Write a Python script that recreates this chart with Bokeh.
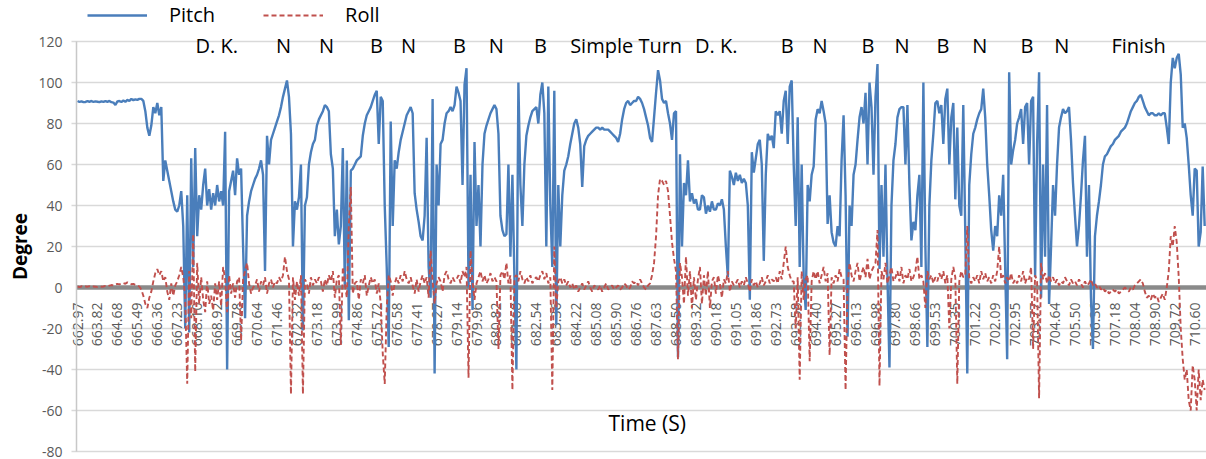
from math import pi
from bokeh.plotting import figure
from bokeh.models import (ColumnDataSource, FixedTicker, Legend, LegendItem,
                          Label, LabelSet, Range1d, LinearAxis)
from bokeh.core.properties import value
from bokeh.embed import file_html
from bokeh.resources import INLINE

# ---------------- data ----------------
tick_labels = ["662.97", "663.82", "664.68", "665.49", "666.36", "667.23", "668.10", "668.92",
               "669.78", "670.64", "671.46", "672.32", "673.18", "673.99", "674.86", "675.72",
               "676.58", "677.41", "678.27", "679.14", "679.96", "680.82", "681.68", "682.54",
               "683.36", "684.22", "685.08", "685.90", "686.76", "687.63", "688.50", "689.32",
               "690.18", "691.05", "691.86", "692.73", "693.58", "694.40", "695.27", "696.13",
               "696.98", "697.80", "698.66", "699.53", "700.35", "701.22", "702.09", "702.95",
               "703.77", "704.64", "705.50", "706.36", "707.18", "708.04", "708.90", "709.72",
               "710.60", "711.46"]
samples_per_label = 10

pitch = [
    91, 90.5, 90.8, 90.4, 90.5, 90.9, 90.6, 91, 90.5, 90.8,
    90.6, 90.4, 90.8, 90.5, 90.9, 90.6, 91, 90.4, 90.2, 89,
    90.8, 91, 90.5, 91.2, 90.6, 91.5, 91, 92, 91.4, 91.8,
    91.5, 92, 92, 91, 86, 78, 74, 79, 88, 85,
    90, 84, 88, 52, 62, 57, 52, 47, 42, 38,
    37, 40, 47, 30, -20, 45, -22, 63, 10, 68,
    25, 45, 38, 50, 58, 40, 48, 38, 46, 40,
    50, 42, 47, 40, 76, -40, 47, 52, 57, 45,
    63, 55, 58, 20, -15, 35, 42, 47, 50, 53,
    55, 58, 62, 55, 8, 74, 60, 72, 75, 78,
    81, 84, 88, 93, 97, 101, 93, 75, 20, 42,
    38, 44, 60, -21, 40, 44, 60, 66, 70, 72,
    79, 82, 84, 86, 89, 88, 86, 65, 58, 25,
    38, 21, 30, 68, 0, 62, -16, 57, 58, 60,
    62, 63, 64, 74, 80, 84, 86, 88, 91, 94,
    96, 70, 93, 91, 40, 10, -29, 81, 30, 62,
    58, 66, 72, 76, 80, 84, 86, 88, 85, 46,
    38, 32, 25, 23, 35, 73, 10, -5, 92, -42,
    60, 40, 70, 72, 80, 85, 86, 88, 86, 89,
    98, 95, 91, 50, 99, 107, 0, 55, -11, 71,
    30, 50, 20, 60, 75, 79, 82, 85, 87, 89,
    87, 75, 35, 28, 25, 26, 60, 15, 55, 5,
    -40, 100, 50, 30, 60, 74, 79, 83, 86, 87,
    88, 80, 94, 100, 85, 20, 98, 40, 10, 96,
    -18, 50, 20, 45, 57, 60, 64, 70, 75, 80,
    82, 78, 70, 49, 69, 72, 74, 75, 76, 77,
    78, 78, 77, 78, 77, 77, 77, 76, 75, 74,
    73, 71, 75, 82, 87, 90, 91, 89, 90, 91,
    91, 93, 92, 90, 87, 83, 79, 73, 71, 83,
    95, 106, 101, 92, 90, 91, 85, 80, 72, 85,
    86, -34, 65, 20, 51, 45, 62, 42, 46, 41,
    43, 38, 38, 45, 44, 36, 40, 37, 42, 38,
    38, 41, 40, 43, 38, 20, 5, 57, 54, 50,
    56, 52, 55, 51, 53, 51, 40, -6, 66, 56,
    63, 70, 72, 60, 13, 55, 75, 72, 74, 68,
    86, 84, 86, 75, 91, 96, 70, 98, 101, 60,
    30, 83, 10, 60, 5, -11, 50, 42, 55, 59,
    82, 87, 85, 91, 86, 80, 31, 45, 27, 22,
    20, 30, 25, 62, 84, 45, -24, 40, 30, 55,
    60, 72, 83, 88, 80, 95, 60, 100, 88, 55,
    93, 109, 9, 50, 15, 60, 5, -39, 40, 62,
    70, 83, 87, 88, 88, 60, 89, 50, 23, 32,
    28, 45, 55, 10, 100, 20, -29, 40, 62, 75,
    90, 91, 85, 89, 70, 92, 97, 60, 83, 90,
    43, 78, 40, 35, 89, 27, -42, 50, 65, 75,
    78, 82, 85, 87, 97, 83, 60, 45, 28, 18,
    30, 25, 45, 35, 55, 10, -35, 105, 60, 67,
    72, 80, 83, 87, 70, 88, 90, 60, 91, 93,
    5, 70, 105, -5, 60, 15, 89, -8, 20, 50,
    35, 60, 78, 83, 87, 85, 86, 88, 72, 51,
    35, 20, 30, 45, 62, 74, 15, 50, -5, -30,
    25, 35, 42, 50, 60, 64, 65, 67, 69, 70,
    72, 73, 74, 76, 77, 78, 80, 83, 86, 88,
    90, 91, 93, 94, 91, 88, 86, 84, 85, 85,
    84, 84, 85, 84, 85, 85, 78, 70, 100, 112,
    107, 112, 114, 104, 78, 80, 73, 60, 45, 35,
    58, 57, 20, 27, 59, 30,
]

roll = [
    0.5, 0.2, 0.6, 0.3, 0.5, 0.4, 0.6, 0.2, 0.5, 0.4,
    0.3, 0.6, 0.4, 0.5, 0.8, 0.6, 0.9, 1.2, 1.0, 1.5,
    1.8, 1.5, 2.0, 2.2, 1.8, 2.5, 2.0, 1.6, 1.8, 1.2,
    1.0, 0.5, -1, -4, -8, -10, -5, -2, 3, 7,
    9, 6, 8, 3, 5, -2, -6, 2, -4, 1,
    3, 6, 10, 5, -5, -47, 8, -15, 26, -41,
    12, -8, 5, -6, -12, 3, -8, -4, -11, 2,
    -6, 3, -9, 10, 4, -12, 6, -3, 2, -5,
    3, 5, -26, 4, 8, 12, 2, -3, 0, 1,
    4, -2, 3, 1, 5, -3, 2, 4, 0, 3,
    2, 5, 3, 6, 15, 8, 4, -52, 5, -6,
    3, -4, 6, -52, 4, 2, -3, 5, 1, 4,
    2, 5, 3, -2, 4, 1, 6, 3, 8, -5,
    4, 6, -28, 10, 2, -5, 30, 49, -3, 2,
    3, -6, 4, 2, 6, -4, 1, 5, 2, 4,
    -3, 2, -8, -32, -47, -10, 6, 3, -4, 2,
    5, 2, 6, 3, 8, 4, 2, 5, 1, -3,
    4, -2, 3, 6, 2, 5, -5, 18, 3, -8,
    2, 5, 3, -2, 6, 8, 4, 2, 5, 3,
    4, 6, 2, 8, 5, 10, -44, 18, 3, -6,
    2, 5, 8, 3, 6, 2, 4, 7, 3, 5,
    3, -30, 6, 8, 4, 12, 2, 6, -50, 5,
    6, 3, 8, 4, 2, 5, 3, 6, 2, 4,
    5, 3, 6, 8, 4, 7, 2, 5, -50, 20,
    -10, 3, 5, 2, 4, 1, 3, 0, 2, -1,
    1, -2, 0, 2, -1, 1, 3, 0, -2, 1,
    0, -1, 1, -2, 0, 2, -1, 0, 1, -1,
    0, 1, -1, 0, 2, 1, -1, 0, 3, 2,
    3, 1, 4, 2, 0, -1, 1, 2, 6, 12,
    25, 45, 53, 52, 50, 52, 47, 35, 22, 14,
    8, -35, 12, 5, -8, 15, -4, 8, -10, 5,
    -6, 4, 10, -8, 6, -4, 8, -10, 3, 5,
    -3, 6, 2, -5, 4, 2, 8, -2, 3, 1,
    2, 4, 0, 3, 1, 5, 2, -2, 4, 1,
    3, 0, 2, 5, 1, 3, 6, 2, 4, 3,
    5, 2, 8, 4, 12, 20, 10, 6, 3, 3,
    -20, 5, -45, 8, -6, 4, 6, -36, 3, 8,
    4, 8, 2, 6, 10, 3, 7, -33, 5, 2,
    6, 3, 9, 5, 4, -50, 2, 12, 6, 3,
    8, 12, 3, 7, 10, 5, 14, 4, 8, 10,
    12, 28, -48, 8, 4, 12, 2, 6, 10, 3,
    5, 8, 3, 10, 2, 6, 4, 9, 3, 5,
    8, 15, 4, 6, 3, -10, 8, 4, 6, 2,
    5, 3, 7, 4, 8, 2, 6, -20, 4, 10,
    5, -47, 3, 8, 5, 6, 30, 4, 2, 5,
    3, 6, 2, 8, 4, 7, 3, 5, 2, 6,
    3, 8, 20, 4, 6, 2, 5, 3, 7, 2,
    4, 2, 6, 3, 8, 2, 5, 4, 10, -30,
    6, 3, -54, 12, 4, 7, 2, 6, 3, 5,
    2, 4, 1, 3, 2, 5, 3, 1, 4, 2,
    3, 1, 4, 2, 0, 3, 1, 2, 4, 1,
    2, 0, 1, -1, 0, -2, -1, -3, -2, -1,
    -2, -1, -3, -2, -1, 0, -1, -2, 0, -1,
    1, 2, 3, 4, 2, -2, -5, -4, -6, -3,
    -5, -4, -7, -5, -3, -6, 0, 8, 25, 20,
    30, 22, 5, -20, -35, -45, -40, -55, -60, -38,
    -45, -60, -40, -55, -45, -50,
]

# manoeuvre annotations (position in sample index)
ann_text = ["D. K.", "N", "N", "B", "N", "B", "N", "B", "Simple Turn", "D. K.",
            "B", "N", "B", "N", "B", "N", "B", "N", "Finish"]
ann_pos = [69.8, 103.3, 124.8, 149.9, 165.9, 191.4, 209.9, 232.0, 275.0, 320.2,
           355.7, 372.2, 396.2, 413.3, 433.8, 452.3, 475.9, 493.4, 531.9]

y_ticks = [-80, -60, -40, -20, 0, 20, 40, 60, 80, 100, 120]

# ---------------- layout constants (pixels) ----------------
W, H = 1206, 459
PX_X = 1.995          # pixels per sample
X0_PX = 77            # pixel of the first sample
PX_Y = 2.05           # pixels per degree
TOP_PX = 41           # pixel of the top tick (120)

x_start = -X0_PX / PX_X
x_end = x_start + W / PX_X
y_end = max(y_ticks) + TOP_PX / PX_Y
y_start = y_end - H / PX_Y
axis_x = x_start + 76 / PX_X      # y axis line position
grid_x0 = x_start + 71 / PX_X     # grid lines start a little left of the axis

FONT = "Open Sans"
idx = list(range(len(pitch)))

p = figure(width=W, height=H, output_backend="svg", toolbar_location=None,
           x_range=Range1d(x_start, x_end), y_range=Range1d(y_start, y_end),
           x_axis_location=None, y_axis_location=None, min_border=0)
p.outline_line_color = None
p.background_fill_color = "white"
p.border_fill_color = "white"
p.xgrid.visible = False
p.ygrid.visible = False

# horizontal grid lines (from the y tick list; the 0 line is the category axis)
grid_ticks = [t for t in y_ticks if t != 0]
p.segment(x0=[grid_x0] * len(grid_ticks), y0=grid_ticks, x1=[x_end] * len(grid_ticks),
          y1=grid_ticks, line_color="#d9d9d9", line_width=1.5, level="underlay")

# value axis
yax = LinearAxis(fixed_location=axis_x, bounds=(min(y_ticks), max(y_ticks)),
                 ticker=FixedTicker(ticks=y_ticks))
yax.major_label_overrides = {t: str(t) for t in y_ticks}
yax.major_label_text_font = FONT
yax.major_label_text_font_size = "14px"
yax.major_label_text_color = "#595959"
yax.major_tick_out = 0
yax.major_tick_in = 0
yax.minor_tick_line_color = None
yax.axis_line_color = "#c8c8c8"
yax.axis_line_width = 1.5
yax.major_label_standoff = 14
yax.axis_label = "Degree"
yax.axis_label_text_font = FONT
yax.axis_label_text_font_style = "bold"
yax.axis_label_text_font_size = "19px"
yax.axis_label_text_color = "black"
yax.axis_label_standoff = 2
p.add_layout(yax, "left")

# category axis crossing at 0
tick_pos = [samples_per_label * k for k in range(len(tick_labels))]
shown = [t for t in tick_pos if t <= x_end - 3]
xax = LinearAxis(fixed_location=0, bounds=(axis_x, x_end), ticker=FixedTicker(ticks=shown),
                 level="underlay")
xax.major_label_overrides = {t: lbl for t, lbl in zip(tick_pos, tick_labels)}
xax.major_label_orientation = pi / 2
xax.major_label_text_font = FONT
xax.major_label_text_font_size = "14px"
xax.major_label_text_color = "#595959"
xax.major_label_standoff = 9
xax.major_tick_line_color = None
xax.minor_tick_line_color = None
xax.axis_line_color = "#8a8a8a"
xax.axis_line_width = 4.5
p.add_layout(xax, "below")

r_pitch = p.line(idx, pitch, line_color="#4a7ebb", line_width=2.4)
r_roll = p.line(idx, roll, line_color="#c0504d", line_width=1.9, line_dash="5 3")

legend = Legend(items=[LegendItem(label="Pitch", renderers=[r_pitch]),
                       LegendItem(label="Roll", renderers=[r_roll])],
                orientation="horizontal", location=(87, 431), padding=0, margin=0,
                spacing=48, glyph_width=60, glyph_height=20, label_standoff=22,
                label_height=20, label_text_font=FONT, label_text_font_size="20px",
                label_text_color="black", border_line_color=None,
                background_fill_alpha=0)
p.add_layout(legend)

ann_src = ColumnDataSource(dict(x=ann_pos, y=[114.5] * len(ann_pos), text=ann_text))
p.add_layout(LabelSet(x="x", y="y", text="text", source=ann_src, text_align="center",
                      text_baseline="alphabetic", text_font=value(FONT),
                      text_font_size=value("20px"), text_color="black"))

p.add_layout(Label(x=285.6, y=-66, text="Time (S)", text_align="center",
                   text_baseline="alphabetic", text_font=FONT, text_font_size="21px",
                   text_color="black"))

open("out.html", "w").write(file_html(p, INLINE))
